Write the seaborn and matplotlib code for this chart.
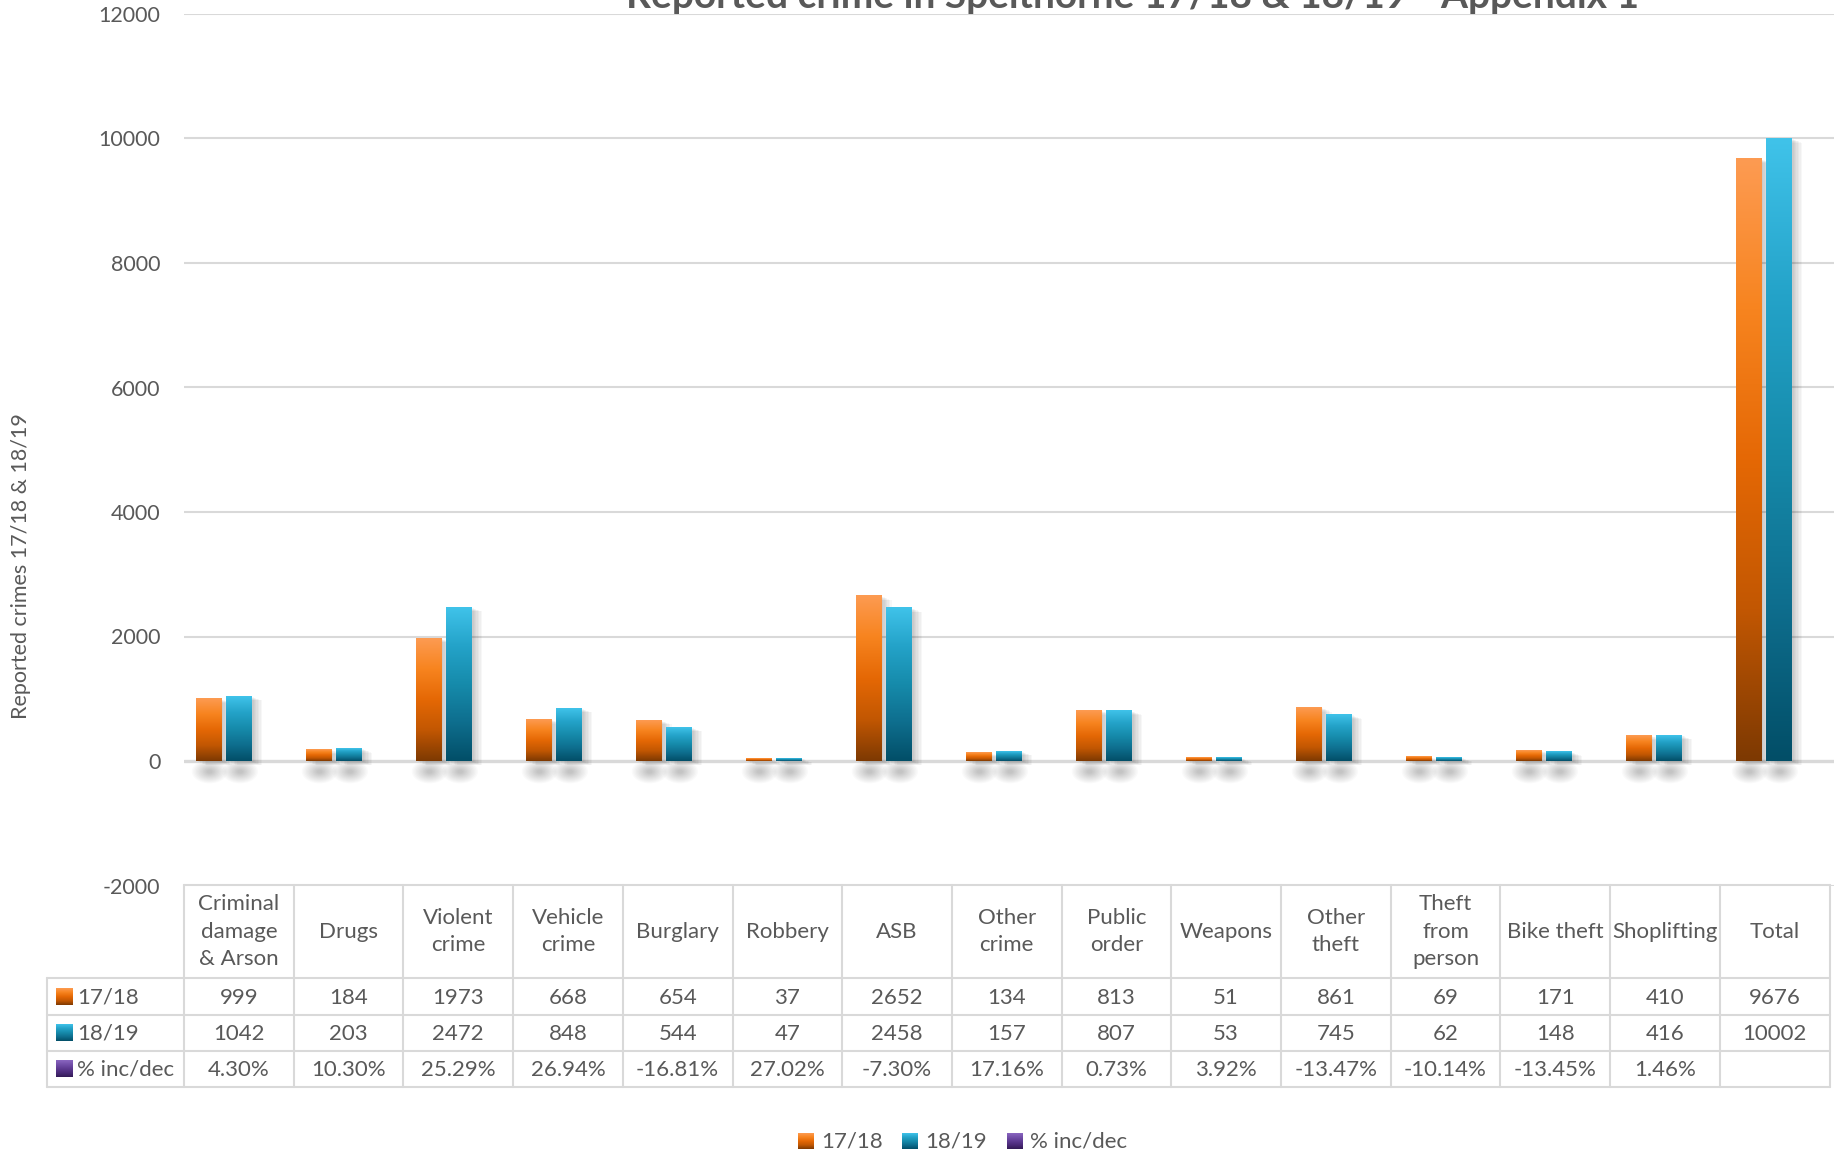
import numpy as np
import pandas as pd
import matplotlib
matplotlib.use("Agg")
import matplotlib.pyplot as plt
import seaborn as sns
from matplotlib.colors import LinearSegmentedColormap
from matplotlib.patches import Ellipse
from matplotlib import patheffects as pe

# ---- data -------------------------------------------------------------
categories = ["Criminal\ndamage\n& Arson", "Drugs", "Violent\ncrime", "Vehicle\ncrime",
              "Burglary", "Robbery", "ASB", "Other\ncrime", "Public\norder", "Weapons",
              "Other\ntheft", "Theft\nfrom\nperson", "Bike theft", "Shoplifting", "Total"]
crimes_1718 = [999, 184, 1973, 668, 654, 37, 2652, 134, 813, 51, 861, 69, 171, 410, 9676]
crimes_1819 = [1042, 203, 2472, 848, 544, 47, 2458, 157, 807, 53, 745, 62, 148, 416, 10002]
pct_change = ["4.30%", "10.30%", "25.29%", "26.94%", "-16.81%", "27.02%", "-7.30%",
              "17.16%", "0.73%", "3.92%", "-13.47%", "-10.14%", "-13.45%", "1.46%", ""]
series = ["17/18", "18/19", "% inc/dec"]
y_ticks = [-2000, 0, 2000, 4000, 6000, 8000, 10000, 12000]

title = "Reported crime in Spelthorne 17/18 & 18/19 - Appendix 1"
y_label = "Reported crimes 17/18 & 18/19"

# ---- style ------------------------------------------------------------
sns.set_theme(style="white")
plt.rcParams["font.family"] = ["Lato", "DejaVu Sans"]
plt.rcParams["axes.unicode_minus"] = False
TEXT = "#595959"
GRID = "#d9d9d9"

ramps = {
    "17/18": ["#7d3902", "#c25702", "#e56805", "#f7841f", "#fd9b52"],
    "18/19": ["#024e67", "#0e6e8e", "#168bab", "#24a3c9", "#40c3ea"],
    "% inc/dec": ["#331a55", "#4a2a78", "#5e3a92", "#7450aa", "#8a66c0"],
}
cmaps = {k: LinearSegmentedColormap.from_list(k, v) for k, v in ramps.items()}
grad = np.linspace(0, 1, 256).reshape(-1, 1)

W, H = 1834, 1157
fig = plt.figure(figsize=(W / 100, H / 100), dpi=100)

# ---- bar chart --------------------------------------------------------
top_px, bot_px, left_px = 14, 885.5, 184
ax = fig.add_axes([left_px / W, 1 - bot_px / H, (W - left_px) / W, (bot_px - top_px) / H])

df = pd.DataFrame({
    "category": categories * 2,
    "period": [series[0]] * len(categories) + [series[1]] * len(categories),
    "crimes": crimes_1718 + crimes_1819,
})
sns.barplot(data=df, x="category", y="crimes", hue="period", order=categories,
            hue_order=series[:2], palette=[ramps["17/18"][2], ramps["18/19"][2]],
            width=0.555, gap=0.164, legend=False, ax=ax, zorder=3, linewidth=0)

# soft drop shadow to the right of each bar
shadow = [pe.SimplePatchShadow(offset=(d, -0.4 * d), shadow_rgbFace="black", alpha=0.03)
          for d in (0.5, 1.5, 2.5, 3.5, 4.5, 5.5, 6.5, 7.5)] + [pe.Normal()]

for cont, name in zip(ax.containers, series[:2]):
    for bar in cont:
        x0, y0 = bar.get_x(), bar.get_y()
        w, h = bar.get_width(), bar.get_height()
        bar.set_path_effects(shadow)
        ax.imshow(grad, extent=[x0, x0 + w, y0, y0 + h], origin="lower",
                  cmap=cmaps[name], aspect="auto", zorder=3.5, interpolation="bilinear")
        # blurred contact shadow under the base
        cx = x0 + w * 0.55
        for s in np.linspace(1.0, 0.15, 12):
            ax.add_patch(Ellipse((cx, -170), 1.4 * w * s, 380 * s, facecolor="black",
                                 edgecolor="none", alpha=0.018, zorder=2))

ax.set_xlim(-0.5 + 0.14, len(categories) - 0.5 + 0.14)
ax.set_ylim(-2000, 12000)
ax.set_yticks(y_ticks)
ax.set_xticks([])
ax.set_xlabel("")
ax.set_ylabel("")
for sp in ax.spines.values():
    sp.set_visible(False)
ax.tick_params(axis="y", length=0, pad=17, labelsize=15.5, labelcolor=TEXT)
for t in y_ticks:
    ax.axhline(t, color=GRID, lw=2.4 if t == 0 else 1.5, zorder=2.5 if t == 0 else 1)

# ---- data table and legend (pixel coordinates) -----------------------
ov = fig.add_axes([0, 0, 1, 1])
ov.set_xlim(0, W)
ov.set_ylim(H, 0)
ov.axis("off")

tab_left, col0, col_w = 47, 184, 109.7
row_y = [885, 978, 1015, 1051, 1087]
n = len(categories)
right = col0 + n * col_w
lw = 1.5

ov.plot([col0, right], [row_y[0]] * 2, color=GRID, lw=lw)
for y in row_y[1:]:
    ov.plot([tab_left, right], [y, y], color=GRID, lw=lw)
ov.plot([tab_left, tab_left], [row_y[1], row_y[-1]], color=GRID, lw=lw)
for k in range(n + 1):
    x = col0 + k * col_w
    ov.plot([x, x], [row_y[0], row_y[-1]], color=GRID, lw=lw)

fs = 16
for i, cat in enumerate(categories):
    cx = col0 + (i + 0.5) * col_w
    ov.text(cx, (row_y[0] + row_y[1]) / 2, cat, ha="center", va="center",
            multialignment="center", fontsize=fs, color=TEXT, linespacing=1.45)
    for r, val in enumerate([crimes_1718[i], crimes_1819[i], pct_change[i]]):
        ov.text(cx, (row_y[r + 1] + row_y[r + 2]) / 2 + 1, str(val), ha="center",
                va="center", fontsize=fs, color=TEXT)


def key(x, y, name, size=17):
    ov.imshow(grad, extent=[x, x + size, y + size, y], origin="lower",
              cmap=cmaps[name], aspect="auto", interpolation="bilinear", zorder=3)


for r, name in enumerate(series):
    yc = (row_y[r + 1] + row_y[r + 2]) / 2
    key(56, yc - 8.5, name)
    ov.text(77, yc + 1, name, ha="left", va="center", fontsize=fs, color=TEXT)

for name, x in zip(series, (798, 902, 1007)):
    key(x, 1133, name, size=16)
    ov.text(x + 23, 1142, name, ha="left", va="center", fontsize=fs, color=TEXT)

ov.set_xlim(0, W)
ov.set_ylim(H, 0)

# ---- titles -----------------------------------------------------------
fig.text(1133 / W, 1 - 8 / H, title, ha="center", va="baseline", fontsize=28,
         fontweight="bold", color=TEXT)
fig.text(21 / W, 1 - 566 / H, y_label, rotation=90, ha="center", va="center",
         fontsize=15.5, color=TEXT)

fig.savefig("out.png", dpi=100, facecolor="white")
